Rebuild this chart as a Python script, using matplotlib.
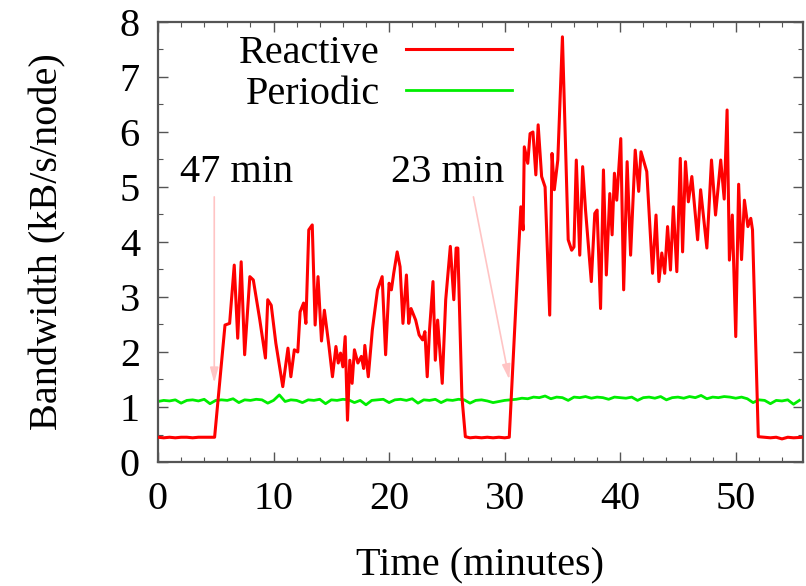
import numpy as np
import matplotlib
matplotlib.use("Agg")
import matplotlib.pyplot as plt
from matplotlib.ticker import MultipleLocator

# ---------------- data ----------------
reactive_time = [0.0, 0.5, 1.0, 1.5, 2.0, 2.5, 3.0, 3.5, 4.0, 4.5, 4.9,
                 5.8, 6.2, 6.6, 6.9, 7.2, 7.5, 7.95, 8.25, 8.8, 9.3, 9.5, 9.8,
                 10.2, 10.8, 11.25, 11.5, 11.8, 12.1, 12.3, 12.6, 12.8, 13.05,
                 13.35, 13.6, 13.85, 14.15, 14.4, 14.8, 15.1, 15.4, 15.6, 15.8,
                 16.0, 16.2, 16.4, 16.6, 16.8, 17.0, 17.3, 17.6, 17.8, 17.9,
                 18.2, 18.55, 19.0, 19.4, 19.7, 20.0, 20.2, 20.4, 20.7, 20.95,
                 21.2, 21.5, 21.7, 21.9, 22.3, 22.6, 22.9, 23.1, 23.3, 23.5,
                 23.8, 24.0, 24.2, 24.6, 24.9, 25.3, 25.6, 25.8, 25.95, 26.3,
                 26.6, 27.0, 27.5, 28.0, 28.5, 29.0, 29.5, 30.0, 30.4,
                 31.4, 31.6, 31.7, 32.0, 32.2, 32.45, 32.7, 32.9, 33.2, 33.5,
                 33.9, 34.1, 34.3, 34.6, 35.0, 35.5, 35.8, 36.0, 36.2, 36.5,
                 36.75, 37.0, 37.5, 37.8, 38.0, 38.3, 38.55, 38.8, 39.1, 39.3,
                 39.5, 39.7, 40.05, 40.3, 40.6, 40.9, 41.3, 41.6, 41.8, 42.3,
                 42.8, 43.1, 43.35, 43.6, 43.85, 44.1, 44.35, 44.6, 44.9, 45.2,
                 45.4, 45.65, 45.9, 46.2, 46.7, 46.96, 47.5, 47.9, 48.25, 48.7,
                 49.0, 49.25, 49.45, 49.7, 50.0, 50.25, 50.5, 50.75, 51.05, 51.3,
                 51.45, 51.95, 52.5, 53.0, 53.5, 54.0, 54.5, 55.0, 55.8]
reactive_bw = [0.45, 0.44, 0.45, 0.44, 0.45, 0.45, 0.44, 0.45, 0.45, 0.45, 0.45,
               2.49, 2.52, 3.58, 2.25, 3.64, 1.95, 3.37, 3.31, 2.6, 1.89, 2.95, 2.85,
               2.16, 1.37, 2.07, 1.55, 2.04, 2.0, 2.73, 2.89, 2.52, 4.22,
               4.31, 2.49, 3.37, 2.2, 2.76, 2.1, 1.55, 2.1, 1.8, 1.98,
               1.73, 2.28, 0.76, 1.85, 1.43, 2.04, 1.8, 1.92, 1.7, 2.12,
               1.55, 2.4, 3.13, 3.37, 1.95, 3.25, 3.13, 3.43, 3.82, 3.55,
               2.52, 3.4, 2.52, 2.79, 2.58, 2.31, 2.22, 2.37, 1.55, 2.4,
               3.28, 1.85, 2.58, 1.43, 2.95, 3.92, 2.95, 3.89, 3.89, 1.19,
               0.46, 0.44, 0.45, 0.44, 0.45, 0.44, 0.45, 0.44, 0.45,
               4.64, 4.22, 5.73, 5.43, 5.97, 6.0, 5.22, 6.13, 5.19, 5.0,
               2.67, 5.61, 4.95, 5.49, 7.73, 4.04, 3.85, 3.91, 5.49, 3.76,
               5.37, 4.58, 3.28, 4.52, 4.58, 2.79, 5.31, 3.4, 4.88, 4.13,
               5.25, 4.76, 5.88, 3.13, 5.46, 3.76, 5.67, 4.92, 5.64, 5.28,
               3.43, 4.49, 3.28, 3.8, 3.43, 4.28, 3.49, 4.64, 3.46, 5.52,
               3.82, 5.46, 4.73, 5.19, 4.04, 4.95, 3.89, 5.49, 4.49, 5.49,
               4.78, 6.4, 3.67, 4.49, 2.28, 5.05, 3.68, 4.76, 4.28, 4.43,
               4.22, 0.46, 0.45, 0.44, 0.45, 0.42, 0.45, 0.44, 0.45]

periodic_bw = [1.10, 1.12, 1.11, 1.13, 1.07, 1.12, 1.13, 1.11, 1.14, 1.06,
               1.12, 1.13, 1.12, 1.15, 1.08, 1.13, 1.12, 1.14, 1.13, 1.07,
               1.12, 1.22, 1.10, 1.13, 1.12, 1.08, 1.13, 1.12, 1.14, 1.06,
               1.13, 1.12, 1.14, 1.13, 1.08, 1.12, 1.04, 1.12, 1.13, 1.14,
               1.08, 1.13, 1.14, 1.12, 1.15, 1.07, 1.13, 1.12, 1.14, 1.08,
               1.13, 1.12, 1.14, 1.13, 1.07, 1.12, 1.13, 1.11, 1.08, 1.10,
               1.12,
               1.13, 1.14, 1.16, 1.15, 1.18, 1.17, 1.20, 1.15, 1.18, 1.17,
               1.12, 1.18, 1.17, 1.19, 1.16, 1.18, 1.17, 1.14, 1.18, 1.17,
               1.16, 1.18, 1.12, 1.17, 1.18, 1.16, 1.19, 1.13, 1.17, 1.18,
               1.16, 1.19, 1.17, 1.21, 1.15, 1.18, 1.17, 1.19, 1.18, 1.16,
               1.18,
               1.15, 1.08, 1.13, 1.12, 1.06, 1.12, 1.11, 1.13, 1.05, 1.12]
periodic_step = 0.5
periodic_time = np.arange(len(periodic_bw)) * periodic_step

series_labels = ["Reactive", "Periodic"]
annot_labels = ["47 min", "23 min"]
annot_text_pos = [(6.8, 5.27), (25.1, 5.27)]
annot_arrow_from = [(4.87, 4.82), (27.3, 4.82)]
annot_arrow_to = [(4.87, 1.44), (30.4, 1.50)]

xticks = [0, 10, 20, 30, 40, 50]
yticks = [0, 1, 2, 3, 4, 5, 6, 7, 8]

# ---------------- figure ----------------
plt.rcParams['font.family'] = ['Liberation Serif', 'DejaVu Serif']
FS = 29

fig = plt.figure(figsize=(8.06, 5.86), dpi=100)
ax = fig.add_axes([0.196, 0.2116, 0.800, 0.7509])

ax.plot(reactive_time, reactive_bw, color='#ff0000', lw=2.2,
        label=series_labels[0], zorder=3)
ax.plot(periodic_time, periodic_bw, color='#00ee00', lw=2.0,
        label=series_labels[1], zorder=2)

for lab, tp, af, at in zip(annot_labels, annot_text_pos,
                           annot_arrow_from, annot_arrow_to):
    ax.text(tp[0], tp[1], lab, fontsize=FS, ha='center', va='center')
    ax.annotate('', xy=at, xytext=af,
                arrowprops=dict(arrowstyle='-|>,head_length=0.9,head_width=0.25',
                                color='#ffc4c4', lw=1.2, shrinkA=0, shrinkB=0),
                zorder=1)

ax.set_xlim(0, 55.8)
ax.set_ylim(0, 8)
ax.set_xticks(xticks)
ax.set_yticks(yticks)
ax.xaxis.set_minor_locator(MultipleLocator(2))
ax.yaxis.set_minor_locator(MultipleLocator(0.5))
ax.tick_params(which='both', direction='in', top=True, right=True,
               color='#555555', labelsize=FS)
ax.tick_params(which='major', length=7, width=1.0)
ax.tick_params(which='minor', length=3.5, width=0.8)
ax.tick_params(axis='x', pad=14)
ax.tick_params(axis='y', pad=13)
for s in ax.spines.values():
    s.set_color('#555555')
    s.set_linewidth(1.6)

ax.set_xlabel('Time (minutes)', fontsize=FS, labelpad=21)
ax.set_ylabel('Bandwidth (kB/s/node)', fontsize=FS, labelpad=38)

leg = ax.legend(loc='upper right', bbox_to_anchor=(0.549, 0.971), frameon=False,
                markerfirst=False, fontsize=FS, handlelength=2.63,
                handletextpad=0.65, labelspacing=0.10, borderaxespad=0,
                borderpad=0)
for t in leg.get_texts():
    t.set_ha('right')

fig.savefig('out.png', dpi=100)
